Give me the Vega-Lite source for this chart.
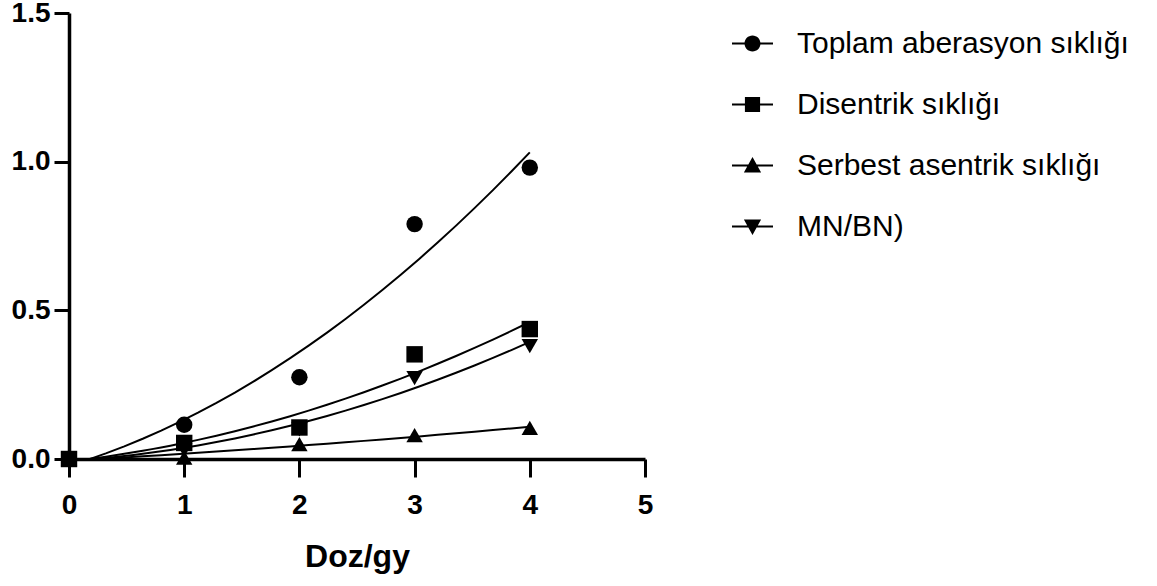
{
  "$schema": "https://vega.github.io/schema/vega-lite/v6.json",
  "autosize": {"type": "none"},
  "padding": {"left": 69, "top": 13, "right": 512, "bottom": 127},
  "width": 576,
  "height": 446,
  "background": "white",
  "config": {
    "view": {"stroke": null},
    "font": "Liberation Sans"
  },
  "data": {
    "values": [
      {"doz": 0, "deger": 0, "seri": "Toplam aberasyon sıklığı"},
      {"doz": 1, "deger": 0.115, "seri": "Toplam aberasyon sıklığı"},
      {"doz": 2, "deger": 0.275, "seri": "Toplam aberasyon sıklığı"},
      {"doz": 3, "deger": 0.79, "seri": "Toplam aberasyon sıklığı"},
      {"doz": 4, "deger": 0.98, "seri": "Toplam aberasyon sıklığı"},
      {"doz": 0, "deger": 0, "seri": "Disentrik sıklığı"},
      {"doz": 1, "deger": 0.054, "seri": "Disentrik sıklığı"},
      {"doz": 2, "deger": 0.106, "seri": "Disentrik sıklığı"},
      {"doz": 3, "deger": 0.352, "seri": "Disentrik sıklığı"},
      {"doz": 4, "deger": 0.437, "seri": "Disentrik sıklığı"},
      {"doz": 0, "deger": 0, "seri": "Serbest asentrik sıklığı"},
      {"doz": 1, "deger": 0.005, "seri": "Serbest asentrik sıklığı"},
      {"doz": 2, "deger": 0.05, "seri": "Serbest asentrik sıklığı"},
      {"doz": 3, "deger": 0.08, "seri": "Serbest asentrik sıklığı"},
      {"doz": 4, "deger": 0.105, "seri": "Serbest asentrik sıklığı"},
      {"doz": 0, "deger": 0, "seri": "MN/BN)"},
      {"doz": 1, "deger": 0.03, "seri": "MN/BN)"},
      {"doz": 2, "deger": 0.1, "seri": "MN/BN)"},
      {"doz": 3, "deger": 0.272, "seri": "MN/BN)"},
      {"doz": 4, "deger": 0.38, "seri": "MN/BN)"}
    ]
  },
  "encoding": {
    "x": {
      "field": "doz",
      "type": "quantitative",
      "scale": {"domain": [0, 5], "nice": false, "zero": false},
      "axis": {
        "values": [0, 1, 2, 3, 4, 5],
        "format": "d",
        "grid": false,
        "domainColor": "black",
        "domainWidth": 3.5,
        "tickColor": "black",
        "tickWidth": 3,
        "tickSize": 18,
        "labelFont": "Liberation Sans",
        "labelFontSize": 28,
        "labelFontWeight": "bold",
        "labelColor": "black",
        "labelPadding": 14,
        "labelFlush": false,
        "title": "Doz/gy",
        "titleFont": "Liberation Sans",
        "titleFontSize": 32,
        "titleFontWeight": "bold",
        "titleColor": "black",
        "titlePadding": 22
      }
    },
    "y": {
      "field": "deger",
      "type": "quantitative",
      "scale": {"domain": [0, 1.5], "nice": false, "zero": false},
      "axis": {
        "values": [0, 0.5, 1, 1.5],
        "format": ".1f",
        "grid": false,
        "domainColor": "black",
        "domainWidth": 3.5,
        "tickColor": "black",
        "tickWidth": 3,
        "tickSize": 15,
        "labelFont": "Liberation Sans",
        "labelFontSize": 28,
        "labelFontWeight": "bold",
        "labelColor": "black",
        "labelPadding": 4,
        "labelFlush": false,
        "title": null
      }
    }
  },
  "layer": [
    {
      "transform": [
        {"regression": "deger", "on": "doz", "groupby": ["seri"], "method": "poly", "order": 2, "extent": [0, 4]}
      ],
      "mark": {"type": "line", "color": "black", "strokeWidth": 2, "clip": true},
      "encoding": {
        "detail": {"field": "seri", "type": "nominal"}
      }
    },
    {
      "mark": {"type": "point", "filled": true, "color": "black", "opacity": 1, "size": 270},
      "encoding": {
        "shape": {
          "field": "seri",
          "type": "nominal",
          "scale": {
            "domain": ["Toplam aberasyon sıklığı", "Disentrik sıklığı", "Serbest asentrik sıklığı", "MN/BN)"],
            "range": ["circle", "square", "triangle-up", "triangle-down"]
          },
          "legend": null
        }
      }
    },
    {
      "mark": {"type": "point", "filled": true, "color": "black", "size": 0},
      "encoding": {
        "shape": {
          "field": "seri",
          "type": "nominal",
          "scale": {
            "domain": ["Toplam aberasyon sıklığı", "Disentrik sıklığı", "Serbest asentrik sıklığı", "MN/BN)"],
            "range": [
              "M-1,-0.05L1,-0.05L1,0.05L-1,0.05Z M-0.39,0A0.39,0.39 0 1 1 0.39,0A0.39,0.39 0 1 1 -0.39,0Z",
              "M-1,-0.05L1,-0.05L1,0.05L-1,0.05Z M-0.37,-0.37L0.37,-0.37L0.37,0.37L-0.37,0.37Z",
              "M-1,-0.05L1,-0.05L1,0.05L-1,0.05Z M0,-0.42L0.42,0.34L-0.42,0.34Z",
              "M-1,-0.05L1,-0.05L1,0.05L-1,0.05Z M0,0.42L-0.42,-0.34L0.42,-0.34Z"
            ]
          },
          "legend": {
            "title": null,
            "orient": "none",
            "legendX": 663,
            "legendY": 10,
            "symbolSize": 1681,
            "symbolFillColor": "black",
            "symbolStrokeWidth": 0,
            "symbolOpacity": 1,
            "labelFont": "Liberation Sans",
            "labelFontSize": 30,
            "labelColor": "black",
            "labelLimit": 600,
            "labelOffset": 24,
            "rowPadding": 25
          }
        }
      }
    }
  ],
  "resolve": {"scale": {"shape": "independent"}, "legend": {"shape": "independent"}}
}
